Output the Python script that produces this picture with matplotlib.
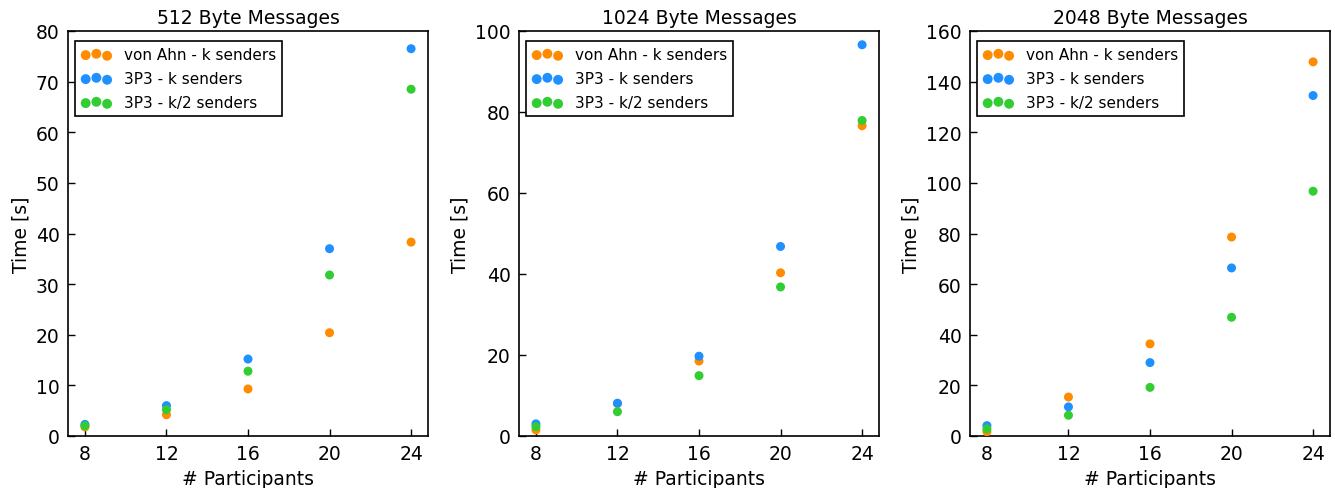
import matplotlib
matplotlib.use("Agg")
import matplotlib.pyplot as plt

participants = [8, 12, 16, 20, 24]
titles = ["512 Byte Messages", "1024 Byte Messages", "2048 Byte Messages"]
labels = ["von Ahn - k senders", "3P3 - k senders", "3P3 - k/2 senders"]
colors = ["#FF8C00", "#1E90FF", "#32CD32"]

vonahn_512 = [1.8, 4.2, 9.3, 20.4, 38.3]
p3_k_512 = [2.3, 6.0, 15.2, 37.0, 76.5]
p3_k2_512 = [2.0, 5.2, 12.8, 31.8, 68.5]

vonahn_1024 = [1.5, 8.0, 18.5, 40.3, 76.6]
p3_k_1024 = [3.0, 8.1, 19.7, 46.8, 96.6]
p3_k2_1024 = [2.3, 6.0, 14.9, 36.8, 77.9]

vonahn_2048 = [1.7, 15.4, 36.4, 78.6, 147.8]
p3_k_2048 = [4.1, 11.5, 29.0, 66.4, 134.5]
p3_k2_2048 = [2.8, 8.2, 19.2, 46.9, 96.7]

data = [
    [vonahn_512, p3_k_512, p3_k2_512],
    [vonahn_1024, p3_k_1024, p3_k2_1024],
    [vonahn_2048, p3_k_2048, p3_k2_2048],
]
ylims = [(0, 80), (0, 100), (0, 160)]
yticks = [range(0, 81, 10), range(0, 101, 20), range(0, 161, 20)]

plt.rcParams['font.family'] = ['DejaVu Sans']
plt.rcParams['font.size'] = 12

fig = plt.figure(figsize=(13.35, 4.89), dpi=100, facecolor='white')
lefts = [68 / 1335, 519 / 1335, 970 / 1335]
w = 360 / 1335
b = 52 / 489
h = 405 / 489

for i in range(3):
    ax = fig.add_axes([lefts[i], b, w, h])
    for series, lab, col in zip(data[i], labels, colors):
        ax.scatter(participants, series, s=42, c=col, edgecolors='none', label=lab, zorder=3)
    ax.set_xlim(7.17, 24.83)
    ax.set_ylim(*ylims[i])
    ax.set_xticks(participants)
    ax.set_yticks(list(yticks[i]))
    ax.tick_params(direction='in', length=5, width=1, labelsize=13.5, top=False, right=False, pad=6)
    for sp in ax.spines.values():
        sp.set_linewidth(1.2)
    ax.set_title(titles[i], fontsize=13.5, pad=6)
    ax.set_xlabel("# Participants", fontsize=13.5)
    ax.set_ylabel("Time [s]", fontsize=13.5)
    leg = ax.legend(loc='upper left', bbox_to_anchor=(7 / 360, 1 - 10 / 405),
                    scatterpoints=3, scatteryoffsets=[0.375, 0.5, 0.3125],
                    fancybox=False, fontsize=11, framealpha=1, edgecolor='black',
                    borderaxespad=0.0, handletextpad=0.8, labelspacing=0.59,
                    markerscale=1.1, borderpad=0.4)
    leg.get_frame().set_linewidth(1.2)

fig.savefig("out.png", dpi=100, facecolor='white')
